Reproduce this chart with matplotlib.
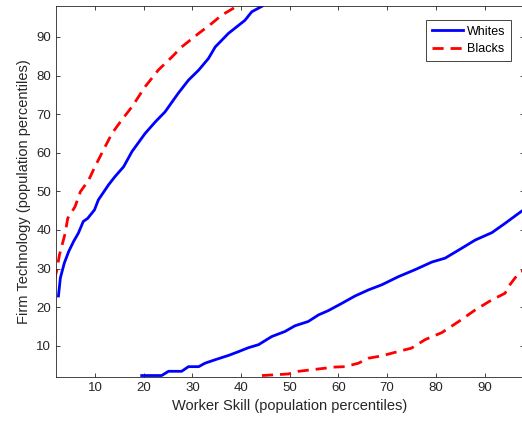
import matplotlib
matplotlib.use('Agg')
import matplotlib.pyplot as plt

plt.rcParams['font.family'] = ['Liberation Sans', 'DejaVu Sans']

# upper-left branch, Whites
w_up_x = [2.5, 2.9, 3.7, 4.6, 5.6, 6.6, 7.6, 8.5, 9.9, 10.7, 12.8, 14.1, 15.9, 17.6,
          20.3, 22.4, 24.4, 27.1, 29.2, 31.3, 33.3, 34.7, 37.4, 40.8, 42.2, 44.4]
w_up_y = [22.9, 27.6, 31.4, 34.4, 37.0, 39.2, 42.2, 43.0, 45.2, 47.8, 51.7, 53.8, 56.4, 60.3,
          65.0, 68.0, 70.6, 75.4, 78.8, 81.4, 84.4, 87.4, 90.9, 94.3, 96.5, 98.0]

# upper-left branch, Blacks
b_up_x = [1.7, 2.3, 2.7, 3.9, 4.4, 5.9, 7.0, 8.7, 10.0, 12.1, 13.5, 15.5, 17.6,
          20.3, 23.0, 25.8, 27.8, 31.3, 34.0, 36.0, 38.8, 39.5]
b_up_y = [27.0, 30.5, 33.5, 39.2, 43.0, 46.0, 49.9, 52.9, 56.4, 61.6, 65.0, 68.5, 71.9,
          77.1, 81.4, 84.8, 87.4, 90.9, 93.5, 95.6, 97.7, 98.0]

# lower-right branch, Whites
w_lo_x = [19.6, 23.7, 25.1, 27.8, 29.2, 31.3, 32.6, 34.7, 37.4, 39.5, 41.5, 43.6, 46.3,
          49.0, 51.1, 53.8, 55.9, 57.9, 60.7, 63.4, 66.2, 68.9, 72.3, 75.7, 79.2, 81.9,
          84.7, 88.1, 91.5, 94.2, 97.0, 98.0]
w_lo_y = [2.3, 2.3, 3.4, 3.4, 4.6, 4.6, 5.5, 6.4, 7.5, 8.5, 9.5, 10.3, 12.4,
          13.7, 15.2, 16.3, 18.0, 19.1, 21.0, 22.9, 24.5, 25.8, 27.9, 29.7, 31.7, 32.7,
          34.8, 37.4, 39.3, 41.7, 44.3, 45.2]

# lower-right branch, Blacks
b_lo_x = [44.3, 49.7, 51.8, 59.3, 61.4, 64.1, 66.2, 68.9, 71.6, 75.0, 77.8, 81.2,
          84.7, 88.1, 91.5, 94.2, 95.2, 97.0, 98.0]
b_lo_y = [2.3, 2.7, 3.4, 4.5, 4.6, 5.5, 6.8, 7.4, 8.3, 9.4, 11.6, 13.4,
          16.3, 19.3, 21.9, 23.6, 25.8, 28.8, 29.5]

fig = plt.figure(figsize=(5.22, 4.30), dpi=100)
ax = fig.add_axes([56 / 522, 53.3 / 430, 467.5 / 522, 370.7 / 430])

ax.plot(w_up_x, w_up_y, color='#0000ff', lw=2, label='Whites')
ax.plot(b_up_x, b_up_y, color='#ff0000', lw=2, ls=(0, (4, 2.5)), label='Blacks')
ax.plot(w_lo_x, w_lo_y, color='#0000ff', lw=2)
ax.plot(b_lo_x, b_lo_y, color='#ff0000', lw=2, ls=(0, (4, 2.5)))

ax.set_xlim(2, 98)
ax.set_ylim(2, 98)
ax.set_xticks(range(10, 91, 10))
ax.set_yticks(range(10, 91, 10))
ax.tick_params(direction='in', top=True, right=True, length=3, width=0.6,
               colors='#262626', labelsize=9.5)
for s in ax.spines.values():
    s.set_color('#262626')
    s.set_linewidth(0.6)

ax.set_xlabel('Worker Skill (population percentiles)', fontsize=10.5, color='#262626')
ax.set_ylabel('Firm Technology (population percentiles)', fontsize=10.5, color='#262626')

leg = ax.legend(loc='upper right', bbox_to_anchor=(0.9726, 0.9622), fontsize=9,
                fancybox=False, framealpha=1, edgecolor='#262626',
                handlelength=2.5, borderpad=0.45, labelspacing=0.45, handletextpad=0.3,
                borderaxespad=0)
leg.get_frame().set_linewidth(0.6)

fig.savefig('out.png', dpi=100)
